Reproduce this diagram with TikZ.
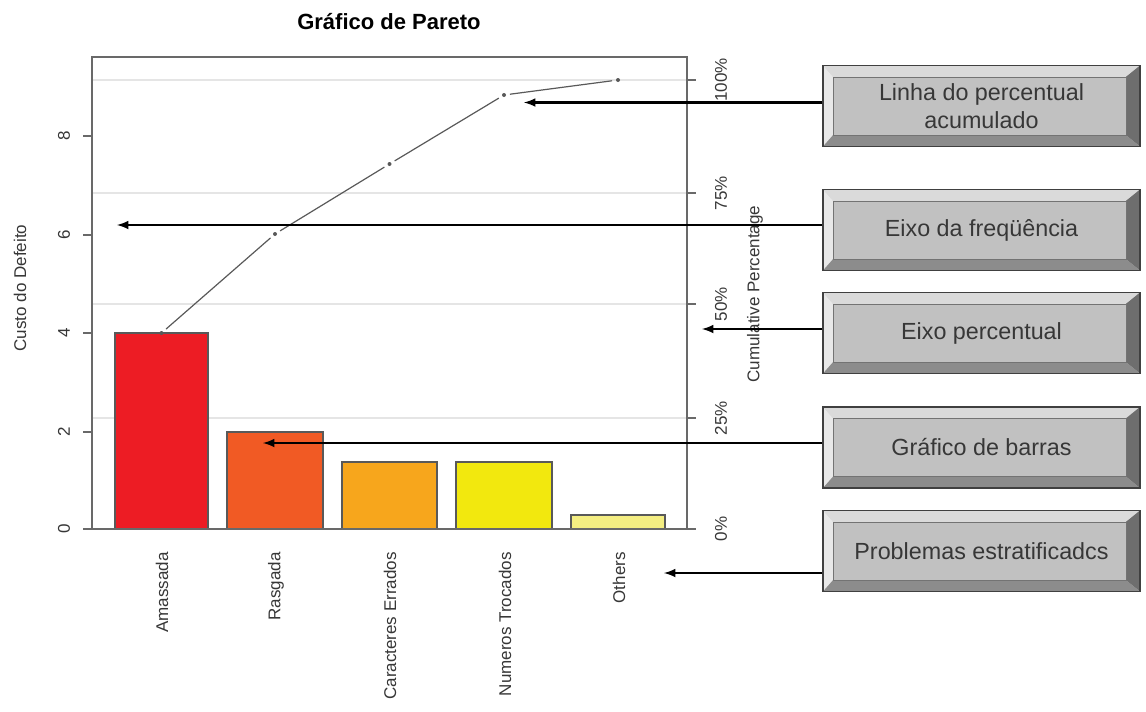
\documentclass[tikz,border=0pt]{standalone}
\usepackage{fontspec}
\setmainfont{Liberation Sans}
\usepackage{xcolor}
\usepackage{tikz}
\usetikzlibrary{calc}
\usetikzlibrary{positioning}

\definecolor{barred}{RGB}{237,28,36}
\definecolor{barorangered}{RGB}{241,90,36}
\definecolor{barorange}{RGB}{247,166,28}
\definecolor{baryellow}{RGB}{242,232,14}
\definecolor{barpale}{RGB}{244,238,130}
\definecolor{facegray}{RGB}{193,193,193}
\definecolor{bevtop}{RGB}{218,218,218}
\definecolor{bevleft}{RGB}{232,232,232}
\definecolor{bevright}{RGB}{110,110,110}
\definecolor{bevbottom}{RGB}{140,140,140}
\definecolor{axisgray}{RGB}{105,105,105}
\definecolor{textgray}{RGB}{55,55,55}

\tikzset{
	axistext/.style={font=\fontsize{12.75}{15}\selectfont, text=textgray, inner sep=0pt},
	rotlabel/.style={axistext, rotate=90},
	catlabel/.style={axistext, rotate=90, anchor=east},
	bar/.style={draw=black!65, line width=0.8pt},
	gridline/.style={black!10, line width=0.8pt},
	cumline/.style={black!65, line width=0.9pt, shorten <=4.5pt, shorten >=4.5pt},
	callout/.style={-latex, line width=1.9pt},
	bevelbox/.style={draw=black!75, line width=0.8pt, fill=facegray,
		minimum width=237.75pt, minimum height=60.75pt, inner sep=0pt,
		align=center, text=textgray, font=\fontsize{17.5}{20.5}\selectfont,
		path picture={
			\fill[bevtop] let \p1=(path picture bounding box.south west), \p2=(path picture bounding box.north east) in
				(\x1,\y2) -- (\x2,\y2) -- (\x2-10.5pt,\y2-8.5pt) -- (\x1+7.5pt,\y2-8.5pt) -- cycle;
			\fill[bevleft] let \p1=(path picture bounding box.south west), \p2=(path picture bounding box.north east) in
				(\x1,\y1) -- (\x1,\y2) -- (\x1+7.5pt,\y2-8.5pt) -- (\x1+7.5pt,\y1+8.5pt) -- cycle;
			\fill[bevright] let \p1=(path picture bounding box.south west), \p2=(path picture bounding box.north east) in
				(\x2,\y1) -- (\x2,\y2) -- (\x2-10.5pt,\y2-8.5pt) -- (\x2-10.5pt,\y1+8.5pt) -- cycle;
			\fill[bevbottom] let \p1=(path picture bounding box.south west), \p2=(path picture bounding box.north east) in
				(\x1,\y1) -- (\x2,\y1) -- (\x2-10.5pt,\y1+8.5pt) -- (\x1+7.5pt,\y1+8.5pt) -- cycle;
			\draw[black!55, line width=0.5pt] let \p1=(path picture bounding box.south west), \p2=(path picture bounding box.north east) in
				(\x1+7.5pt,\y1+8.5pt) rectangle (\x2-10.5pt,\y2-8.5pt);
		}}
}

\begin{document}
\begin{tikzpicture}[x=0.75pt,y=-0.75pt]
		\useasboundingbox (0,0) rectangle (1146,711);
		\node[font=\bfseries\fontsize{16.5}{19}\selectfont, anchor=base] (title) at (389,29) {Gráfico de Pareto};
		\draw[gridline] (92,80) -- (687,80);
		\draw[gridline] (92,193) -- (687,193);
		\draw[gridline] (92,304) -- (687,304);
		\draw[gridline] (92,418) -- (687,418);
		\fill[barred] (115,529) rectangle (208,333);
		\draw[bar] (115,529) rectangle (208,333);
		\fill[barorangered] (227,529) rectangle (323,432);
		\draw[bar] (227,529) rectangle (323,432);
		\fill[barorange] (342,529) rectangle (437,462);
		\draw[bar] (342,529) rectangle (437,462);
		\fill[baryellow] (456,529) rectangle (552,462);
		\draw[bar] (456,529) rectangle (552,462);
		\fill[barpale] (571,529) rectangle (665,515);
		\draw[bar] (571,529) rectangle (665,515);
		\draw[axisgray, line width=1pt] (92,57) rectangle (687,529);
		\draw[axisgray, line width=1pt] (83,529) -- (92,529);
		\draw[axisgray, line width=1pt] (83,432) -- (92,432);
		\draw[axisgray, line width=1pt] (83,333) -- (92,333);
		\draw[axisgray, line width=1pt] (83,235) -- (92,235);
		\draw[axisgray, line width=1pt] (83,136) -- (92,136);
		\draw[axisgray, line width=1pt] (687,529) -- (696,529);
		\draw[axisgray, line width=1pt] (687,418) -- (696,418);
		\draw[axisgray, line width=1pt] (687,304) -- (696,304);
		\draw[axisgray, line width=1pt] (687,193) -- (696,193);
		\draw[axisgray, line width=1pt] (687,80) -- (696,80);
		\node[rotlabel] (y0) at (64,529) {0};
		\node[rotlabel] (y2) at (64,432) {2};
		\node[rotlabel] (y4) at (64,333) {4};
		\node[rotlabel] (y6) at (64,235) {6};
		\node[rotlabel] (y8) at (64,136) {8};
		\node[rotlabel] (p0) at (721,529) {0\%};
		\node[rotlabel] (p25) at (721,418) {25\%};
		\node[rotlabel] (p50) at (721,304) {50\%};
		\node[rotlabel] (p75) at (721,193) {75\%};
		\node[rotlabel] (p100) at (721,80) {100\%};
		\node[rotlabel] (ylabel) at (20,288) {Custo do Defeito};
		\node[rotlabel] (plabel) at (755,294) {Cumulative Percentage};
		\node[catlabel] (amassada) at (162,552) {Amassada};
		\node[catlabel] (rasgada) at (276,552) {Rasgada};
		\node[catlabel] (caracteres) at (390,552) {Caracteres Errados};
		\node[catlabel] (numeros) at (505,552) {Numeros Trocados};
		\node[catlabel] (others) at (619,552) {Others};
		\coordinate (c1) at (161.5,333);
		\coordinate (c2) at (275,234);
		\coordinate (c3) at (389.5,164);
		\coordinate (c4) at (504,95);
		\coordinate (c5) at (618,80);
		\draw[cumline] (c1) -- (c2);
		\draw[cumline] (c2) -- (c3);
		\draw[cumline] (c3) -- (c4);
		\draw[cumline] (c4) -- (c5);
		\fill[black!65] (c1) circle (2);
		\fill[black!65] (c2) circle (2);
		\fill[black!65] (c3) circle (2);
		\fill[black!65] (c4) circle (2);
		\fill[black!65] (c5) circle (2);
		\node[bevelbox] (linha box) at (981.5,106) {Linha do percentual\\acumulado};
		\node[bevelbox] (freq box) at (981.5,230) {Eixo da freqüência};
		\node[bevelbox] (perc box) at (981.5,333) {Eixo percentual};
		\node[bevelbox] (barras box) at (981.5,447.5) {Gráfico de barras};
		\node[bevelbox] (estrat box) at (981.5,551) {Problemas estratificadcs};
		\coordinate (linha tip) at (524,102.5);
		\coordinate (freq tip) at (117,225);
		\coordinate (perc tip) at (702,329);
		\coordinate (barras tip) at (263,443);
		\coordinate (estrat tip) at (664,573);
		\draw[callout] (linha box.west |- linha tip) -- (linha tip);
		\draw[callout] (freq box.west |- freq tip) -- (freq tip);
		\draw[callout] (perc box.west |- perc tip) -- (perc tip);
		\draw[callout] (barras box.west |- barras tip) -- (barras tip);
		\draw[callout] (estrat box.west |- estrat tip) -- (estrat tip);
\end{tikzpicture}
\end{document}
